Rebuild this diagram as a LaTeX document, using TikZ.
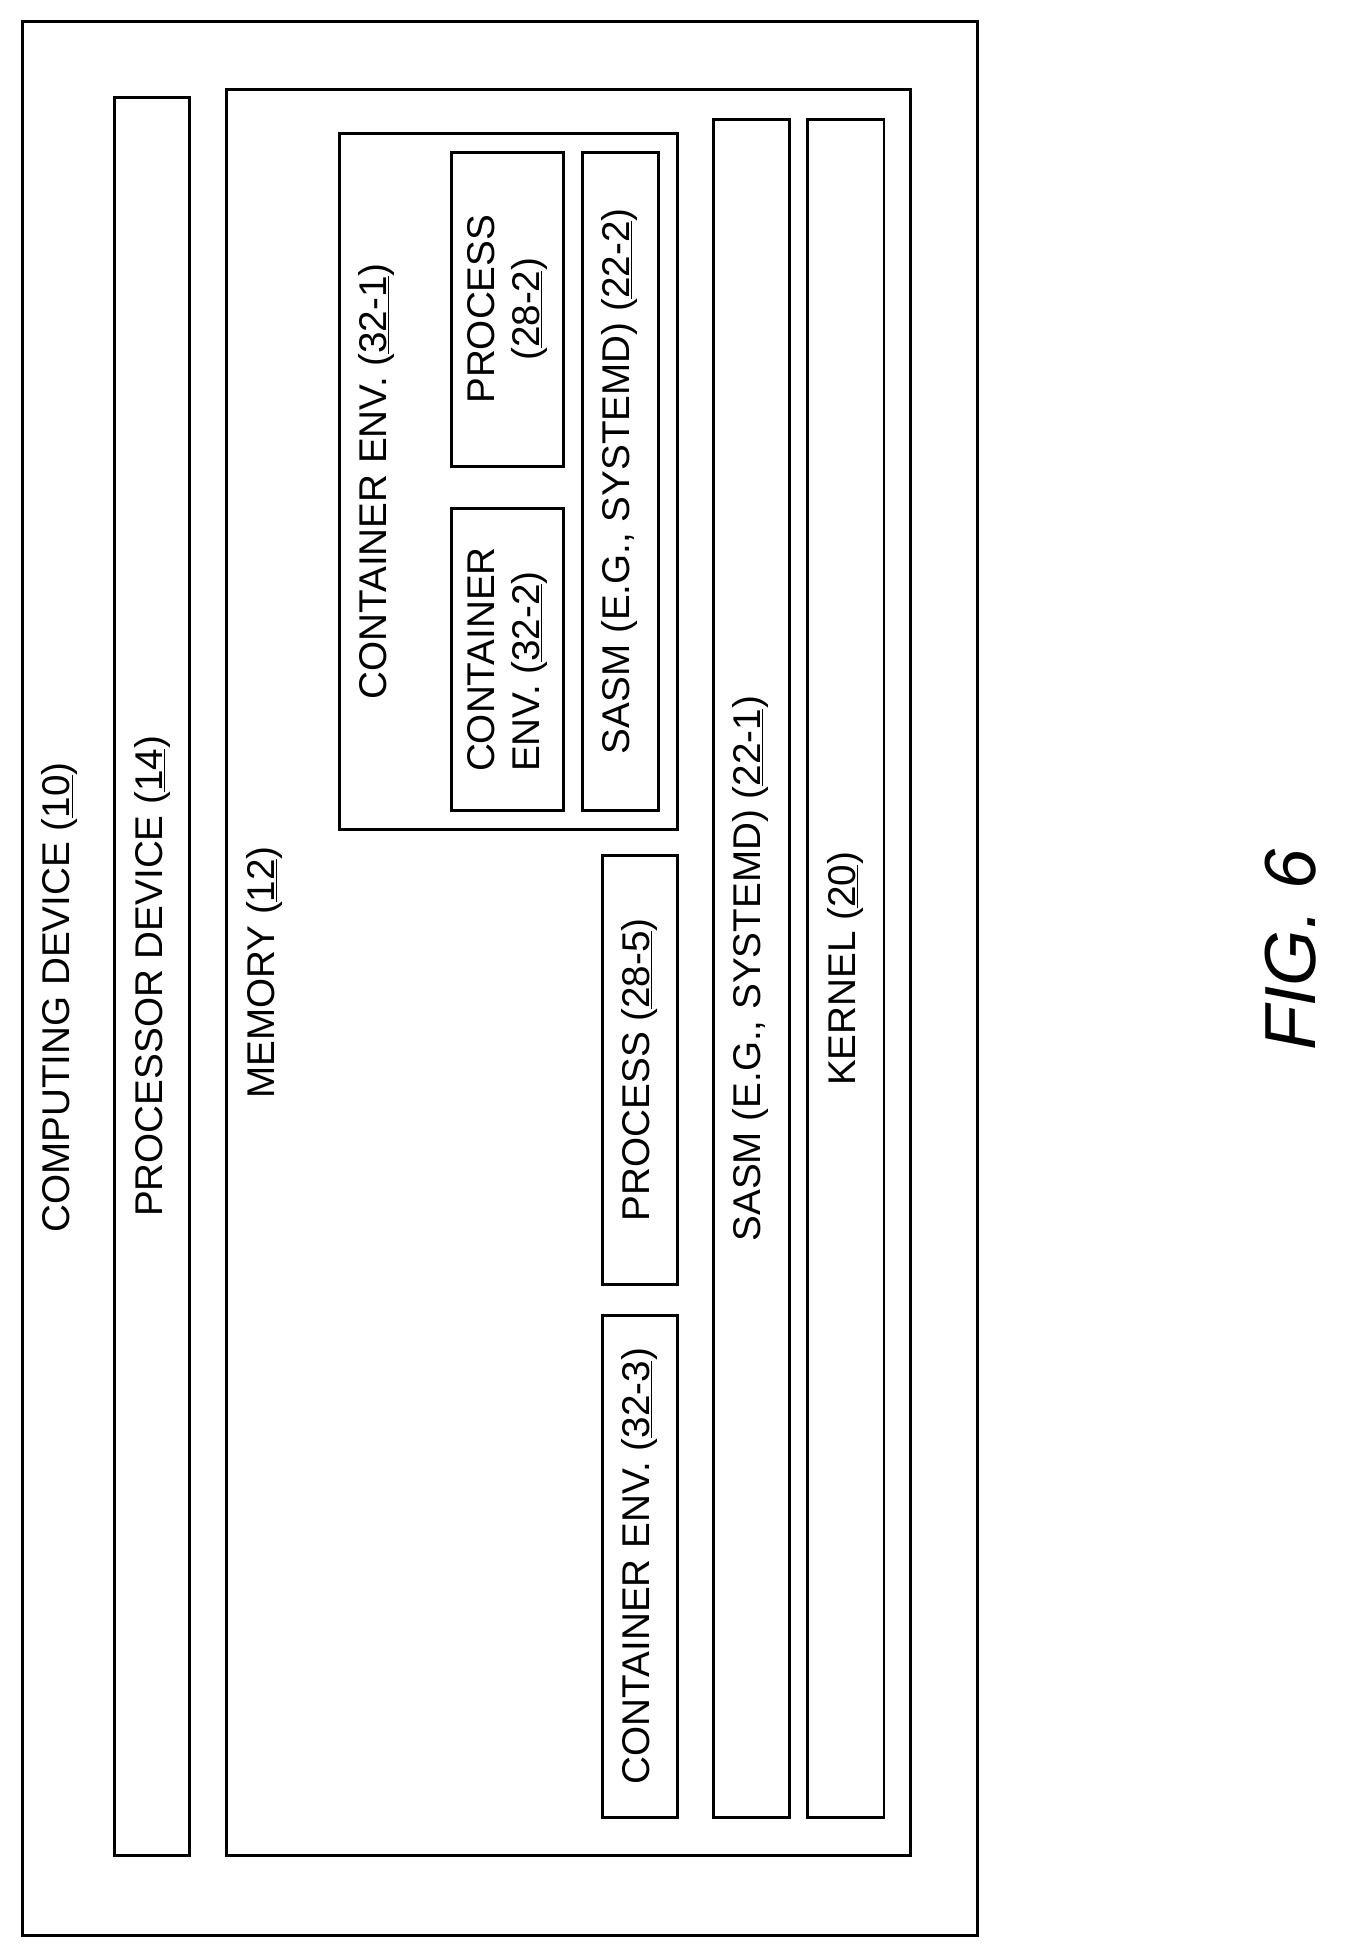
\documentclass[tikz,border=0pt]{standalone}
\usepackage{fontspec}
\setmainfont{Liberation Sans}
\begin{document}
\begin{tikzpicture}[x=1pt,y=-1pt,
  bx/.style={draw,line width=2.4pt},
  lb/.style={rotate=90,font=\fontsize{31}{36}\selectfont,inner sep=0pt}]
\useasboundingbox (0,0) rectangle (1080,1568);
\draw[bx] (18,17) rectangle (784,1552);
\draw[bx] (92,78) rectangle (152,1488);
\draw[bx] (182,72) rectangle (730,1488);
\draw[bx] (572,96) rectangle (633,1458);
\draw[bx] (648,96) rectangle (709,1458);
\draw[bx] (272,107) rectangle (543,665);
\draw[bx] (362,408) rectangle (452,650);
\draw[bx] (362,122) rectangle (452,374);
\draw[bx] (467,122) rectangle (528,650);
\draw[bx] (483,686) rectangle (543,1030);
\draw[bx] (483,1055) rectangle (543,1458);
\node[lb] (t1) at (48,800) {COMPUTING DEVICE (\underline{10})};
\node[lb] (t2) at (122,783) {PROCESSOR DEVICE (\underline{14})};
\node[lb] (t3) at (212,780) {MEMORY (\underline{12})};
\node[lb] (t4) at (602,777) {SASM (E.G., SYSTEMD) (\underline{22-1})};
\node[lb] (t5) at (678,777) {KERNEL (\underline{20})};
\node[lb] (t6) at (302,386) {CONTAINER ENV. (\underline{32-1})};
\node[lb,align=left] (t7) at (407,529) {CONTAINER\\ENV. (\underline{32-2})};
\node[lb,align=center] (t8) at (407,248) {PROCESS\\(\underline{28-2})};
\node[lb] (t9) at (497,386) {SASM (E.G., SYSTEMD) (\underline{22-2})};
\node[lb] (t10) at (513,858) {PROCESS (\underline{28-5})};
\node[lb] (t11) at (513,1256) {CONTAINER ENV. (\underline{32-3})};
\node[rotate=90,font=\fontsize{58}{64}\selectfont\itshape] (fig) at (1035,762) {FIG. 6};
\end{tikzpicture}
\end{document}
